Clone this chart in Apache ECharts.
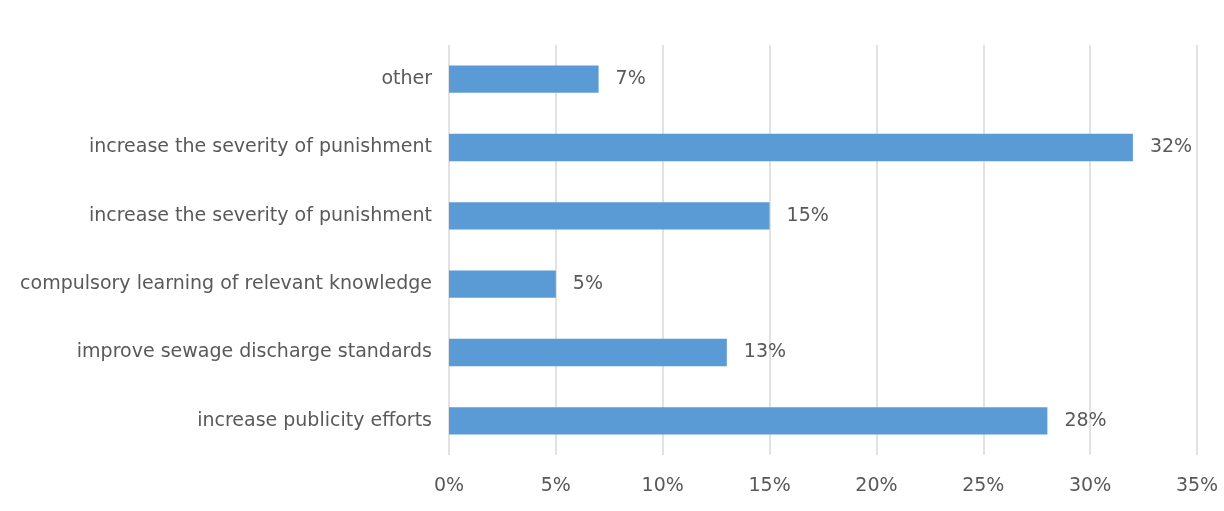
<!DOCTYPE html>
<html>
<head>
<meta charset="utf-8">
<script src="https://cdn.jsdelivr.net/npm/echarts@6/dist/echarts.min.js"></script>
<style>
  html, body { margin: 0; padding: 0; background: #fff; }
  #chart { width: 1224px; height: 511px; }
</style>
</head>
<body>
<div id="chart"></div>
<script>
// Categories listed bottom to top (category axis runs upward)
const categories = [
  'increase publicity efforts',
  'improve sewage discharge standards',
  'compulsory learning of relevant knowledge',
  'increase the severity of punishment',
  'increase the severity of punishment',
  'other'
];
const shares = [28, 13, 5, 15, 32, 7];
const tickValues = [0, 5, 10, 15, 20, 25, 30, 35];

const textColor = '#595959';
const fontFamily = 'DejaVu Sans, sans-serif';
const fontSize = 19;

const chart = echarts.init(document.getElementById('chart'));
chart.setOption({
  animation: false,
  grid: { left: 449, right: 27, top: 45, bottom: 56, containLabel: false },
  xAxis: {
    type: 'value',
    min: tickValues[0],
    max: tickValues[tickValues.length - 1],
    interval: 5,
    axisLine: { show: false },
    axisTick: { show: false },
    splitLine: { show: true, lineStyle: { color: '#D9D9D9', width: 1.5 } },
    axisLabel: {
      color: textColor, fontSize: fontSize, fontFamily: fontFamily, margin: 22,
      formatter: v => v + '%'
    }
  },
  yAxis: {
    type: 'category',
    data: categories,
    axisLine: { show: false },
    axisTick: { show: false },
    splitLine: { show: false },
    axisLabel: { color: textColor, fontSize: fontSize, fontFamily: fontFamily, margin: 17 }
  },
  series: [{
    type: 'bar',
    data: shares,
    barWidth: '40%',
    itemStyle: { color: '#5B9BD5' },
    label: {
      show: true, position: 'right', distance: 17,
      color: textColor, fontSize: fontSize, fontFamily: fontFamily,
      formatter: p => p.value + '%'
    }
  }]
});
</script>
</body>
</html>
